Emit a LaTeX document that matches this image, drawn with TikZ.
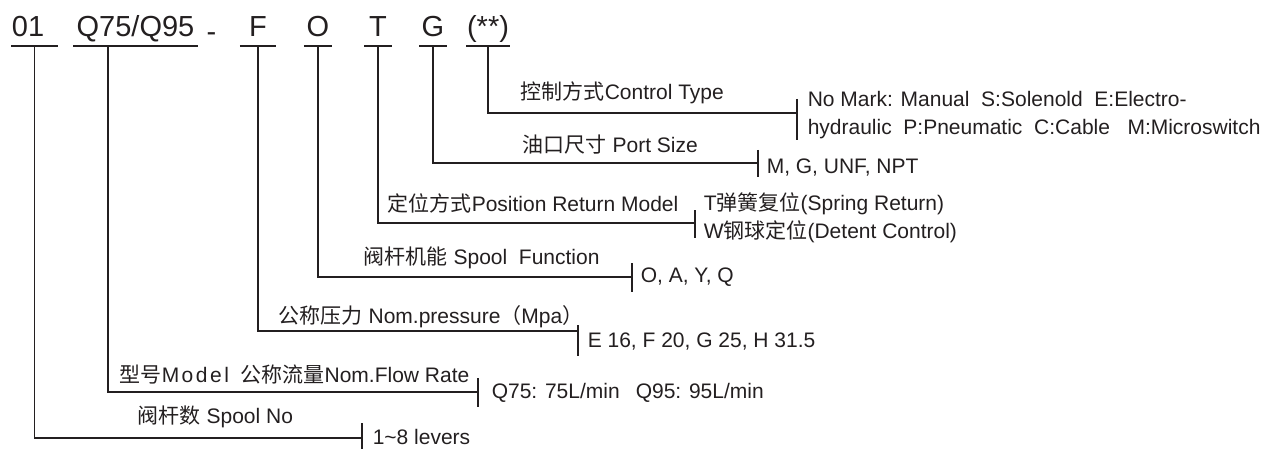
\documentclass[tikz,border=0pt]{standalone}
\usepackage{fontspec}
\setmainfont{Liberation Sans}
\newfontfamily\cjk{Noto Sans CJK SC}
\definecolor{ink}{RGB}{35,31,32}

\begin{document}
\begin{tikzpicture}[
    x=1pt, y=-1pt,
    line width=1.5pt, draw=ink, text=ink,
    code/.style={font=\fontsize{29}{29}\selectfont, inner xsep=0pt, inner ysep=9pt,
      text height=21pt, text depth=0pt, anchor=south, minimum width=#1},
    lbl/.style={font=\fontsize{21}{28}\selectfont, anchor=west, inner sep=0pt},
    val/.style={lbl, align=left},
  ]
  \useasboundingbox (0,0) rectangle (1268,449);

  % model code
  \node[code=45, text width=45pt] (c01) at (34.5,46) {01};
  \node[code=123] (cq)  at (135.5,46) {Q75/Q95};
  \node[font=\fontsize{29}{29}\selectfont, anchor=base, inner sep=0pt] (cdash) at (211.5,41.5) {-};
  \node[code=35] (cf) at (258,46) {F};
  \node[code=27] (co) at (318,46) {O};
  \node[code=26] (ct) at (378,46) {T};
  \node[code=26] (cg) at (433,46) {G};
  \node[code=37] (cx) at (488,46) {(**)};
  \foreach \n in {c01,cq,cf,co,ct,cg,cx}
    \draw (\n.south west) -- (\n.south east);

  % labels
  \node[lbl] (lx) at (520,93)  {{\cjk 控制方式}Control Type};
  \node[lbl] (lg) at (522,145) {{\cjk 油口尺寸} Port Size};
  \node[lbl] (lt) at (387,203) {{\cjk 定位方式}Position Return Model};
  \node[lbl] (lo) at (363,258) {{\cjk 阀杆机能} Spool\ \ Function};
  \node[lbl] (lf) at (278,317) {{\cjk 公称压力} Nom.pressure{\cjk （}Mpa{\cjk ）}};
  \node[lbl] (lq) at (119,375) {{\cjk 型号}M\kern2.5pt o\kern2.5pt d\kern2.5pt e\kern2.5pt l\ \ {\cjk 公称流量}Nom.Flow Rate};
  \node[lbl] (l01) at (137,417) {{\cjk 阀杆数} Spool No};

  % values
  \node[val] (vx) at (807,115) {No Mark: Manual\ \ S:Solenold\ \ E:Electro-\\hydraulic\ \ P:Pneumatic\ \ C:Cable\ \ \ M:Microswitch};
  \node[val] (vg) at (766,168) {M, G, UNF, NPT};
  \node[val] (vt) at (703,217.5) {T{\cjk 弹簧复位}(Spring Return)\\W{\cjk 钢球定位}(Detent Control)};
  \node[val] (vo) at (640,277) {O, A, Y, Q};
  \node[val] (vf) at (587,342) {E 16, F 20, G 25, H 31.5};
  \node[val] (vq) at (491,393) {Q75: 75L/min\hspace{16pt}Q95: 95L/min};
  \node[val] (v01) at (372,437) {1\textasciitilde8 levers};

  % ends of the leader lines
  \coordinate (tx)  at (797,113);
  \coordinate (tg)  at (758,163);
  \coordinate (tt)  at (695,223);
  \coordinate (to)  at (632,277);
  \coordinate (tf)  at (578,331);
  \coordinate (tq)  at (478,392);
  \coordinate (t01) at (362,438);

  \draw (cx.south) |- (tx);
  \draw (cg.south) |- (tg);
  \draw (ct.south) |- (tt);
  \draw (co.south) |- (to);
  \draw (cf.south) |- (tf);
  \draw ([xshift=-27.5pt]cq.south) |- (tq);
  \draw (c01.south) |- (t01);

  \foreach \t/\a/\b in {tx/-14/41, tg/-13/27, tt/-13/28, to/-14/29, tf/-6/31, tq/-14/29, t01/-15/26}
    \draw (\t) ++(0,\a) -- ++(0,\b);
\end{tikzpicture}
\end{document}
